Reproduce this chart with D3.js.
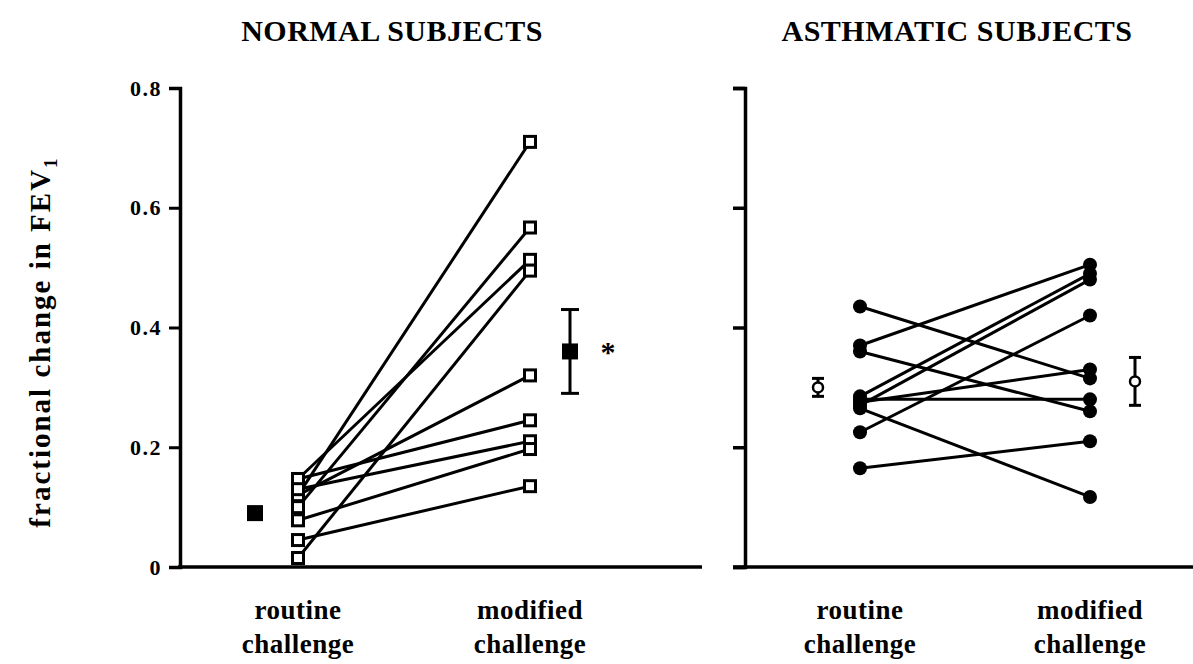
<!DOCTYPE html>
<html>
<head>
<meta charset="utf-8">
<script src="https://cdn.jsdelivr.net/npm/d3@7"></script>
<style>
  html, body { margin: 0; padding: 0; background: #fff; }
  svg { display: block; }
  text { font-family: "Liberation Serif", "DejaVu Serif", serif; font-weight: bold; fill: #000; }
</style>
</head>
<body>
<svg id="chart" width="1193" height="664"></svg>
<script>
// Fractional change in FEV1: routine vs modified challenge
const conditions = ["routine", "modified"];
const yTicks = [0, 0.2, 0.4, 0.6, 0.8];

// Normal subjects: paired values (routine, modified)
const normalRoutine  = [0.12, 0.10, 0.147, 0.015, 0.12, 0.147, 0.13, 0.078, 0.045];
const normalModified = [0.71, 0.567, 0.513, 0.495, 0.32, 0.245, 0.21, 0.197, 0.135];
const normalMean = [0.09, 0.36];
const normalErr  = [0, 0.07];

// Asthmatic subjects: paired values (routine, modified)
const asthRoutine  = [0.435, 0.37, 0.36, 0.285, 0.28, 0.275, 0.27, 0.265, 0.225, 0.165];
const asthModified = [0.315, 0.505, 0.26, 0.49, 0.28, 0.33, 0.48, 0.117, 0.42, 0.21];
const asthMean = [0.30, 0.31];
const asthErr  = [0.015, 0.04];

const svg = d3.select("#chart");
const y = d3.scaleLinear().domain([0, 0.8]).range([567, 88]);

const xL = d3.scalePoint().domain(conditions).range([298, 530]);
const xR = d3.scalePoint().domain(conditions).range([860, 1090]);

// ---- left panel axes ----
const axL = svg.append("g").attr("transform", "translate(180,0)")
  .call(d3.axisLeft(y).tickValues(yTicks).tickSizeOuter(0).tickSize(11).tickPadding(7)
    .tickFormat(d => d === 0 ? "0" : d3.format(".1f")(d)));
axL.select(".domain").attr("stroke-width", 3.5);
axL.selectAll(".tick line").attr("stroke-width", 3);
axL.selectAll(".tick text").style("font-size", "22px").style("letter-spacing", "1.5px");

svg.append("line").attr("x1", 178).attr("x2", 702).attr("y1", y(0)).attr("y2", y(0))
  .attr("stroke", "#000").attr("stroke-width", 3.5);

// ---- right panel axes ----
const axR = svg.append("g").attr("transform", "translate(745,0)")
  .call(d3.axisLeft(y).tickValues(yTicks).tickSizeOuter(0).tickSize(12).tickFormat(""));
axR.select(".domain").attr("stroke-width", 3.5);
axR.selectAll(".tick line").attr("stroke-width", 3.5);

svg.append("line").attr("x1", 733).attr("x2", 1193).attr("y1", y(0)).attr("y2", y(0))
  .attr("stroke", "#000").attr("stroke-width", 3.5);

// ---- titles ----
svg.append("text").attr("x", 392).attr("y", 41).attr("text-anchor", "middle")
  .style("font-size", "30px").style("letter-spacing", "0.5px").text("NORMAL SUBJECTS");
svg.append("text").attr("x", 957).attr("y", 41).attr("text-anchor", "middle")
  .style("font-size", "30px").style("letter-spacing", "0.5px").text("ASTHMATIC SUBJECTS");

// ---- y label ----
const yl = svg.append("text")
  .attr("transform", "translate(50,342) rotate(-90)")
  .attr("text-anchor", "middle").style("font-size", "29px").style("letter-spacing", "2px");
yl.append("tspan").text("fractional change in FEV");
yl.append("tspan").attr("dy", 7).style("font-size", "19px").text("1");

// ---- category labels ----
function catLabels(x) {
  const labels = { routine: ["routine", "challenge"], modified: ["modified", "challenge"] };
  conditions.forEach(c => {
    const t = svg.append("text").attr("x", x(c)).attr("text-anchor", "middle")
      .style("font-size", "27px").style("letter-spacing", "0.5px");
    t.append("tspan").attr("x", x(c)).attr("y", 619).text(labels[c][0]);
    t.append("tspan").attr("x", x(c)).attr("y", 653).text(labels[c][1]);
  });
}
catLabels(xL);
catLabels(xR);

// ---- normal subjects: lines and open squares ----
const gN = svg.append("g");
normalRoutine.forEach((r, i) => {
  gN.append("line")
    .attr("x1", xL("routine")).attr("y1", y(r))
    .attr("x2", xL("modified")).attr("y2", y(normalModified[i]))
    .attr("stroke", "#000").attr("stroke-width", 3);
});
const sq = 11;
function openSquares(vals, cx) {
  gN.selectAll(null).data(vals).enter().append("rect")
    .attr("x", cx - sq / 2).attr("y", d => y(d) - sq / 2)
    .attr("width", sq).attr("height", sq)
    .attr("fill", "#fff").attr("stroke", "#000").attr("stroke-width", 3);
}
openSquares(normalRoutine, xL("routine"));
openSquares(normalModified, xL("modified"));

// means with SE
const nMx = [xL("routine") - 43, xL("modified") + 40];
normalMean.forEach((m, i) => {
  if (normalErr[i] > 0) {
    [m + normalErr[i], m - normalErr[i]].forEach(e => {
      gN.append("line").attr("x1", nMx[i]).attr("x2", nMx[i]).attr("y1", y(m)).attr("y2", y(e))
        .attr("stroke", "#000").attr("stroke-width", 3);
      gN.append("line").attr("x1", nMx[i] - 9).attr("x2", nMx[i] + 9).attr("y1", y(e)).attr("y2", y(e))
        .attr("stroke", "#000").attr("stroke-width", 3);
    });
  }
  gN.append("rect").attr("x", nMx[i] - 8).attr("y", y(m) - 8).attr("width", 16).attr("height", 16)
    .attr("fill", "#000");
});
svg.append("text").attr("x", 608).attr("y", 362).attr("text-anchor", "middle")
  .style("font-size", "30px").text("*");

// ---- asthmatic subjects: lines and filled circles ----
const gA = svg.append("g");
asthRoutine.forEach((r, i) => {
  gA.append("line")
    .attr("x1", xR("routine")).attr("y1", y(r))
    .attr("x2", xR("modified")).attr("y2", y(asthModified[i]))
    .attr("stroke", "#000").attr("stroke-width", 3);
});
[[asthRoutine, "routine"], [asthModified, "modified"]].forEach(([vals, c]) => {
  gA.selectAll(null).data(vals).enter().append("circle")
    .attr("cx", xR(c)).attr("cy", d => y(d)).attr("r", 7).attr("fill", "#000");
});

const aMx = [xR("routine") - 42, xR("modified") + 45];
asthMean.forEach((m, i) => {
  [m + asthErr[i], m - asthErr[i]].forEach(e => {
    gA.append("line").attr("x1", aMx[i]).attr("x2", aMx[i]).attr("y1", y(m)).attr("y2", y(e))
      .attr("stroke", "#000").attr("stroke-width", 3);
    gA.append("line").attr("x1", aMx[i] - 6).attr("x2", aMx[i] + 6).attr("y1", y(e)).attr("y2", y(e))
      .attr("stroke", "#000").attr("stroke-width", 3);
  });
  gA.append("circle").attr("cx", aMx[i]).attr("cy", y(m)).attr("r", 5)
    .attr("fill", "#fff").attr("stroke", "#000").attr("stroke-width", 2.5);
});
</script>
</body>
</html>
